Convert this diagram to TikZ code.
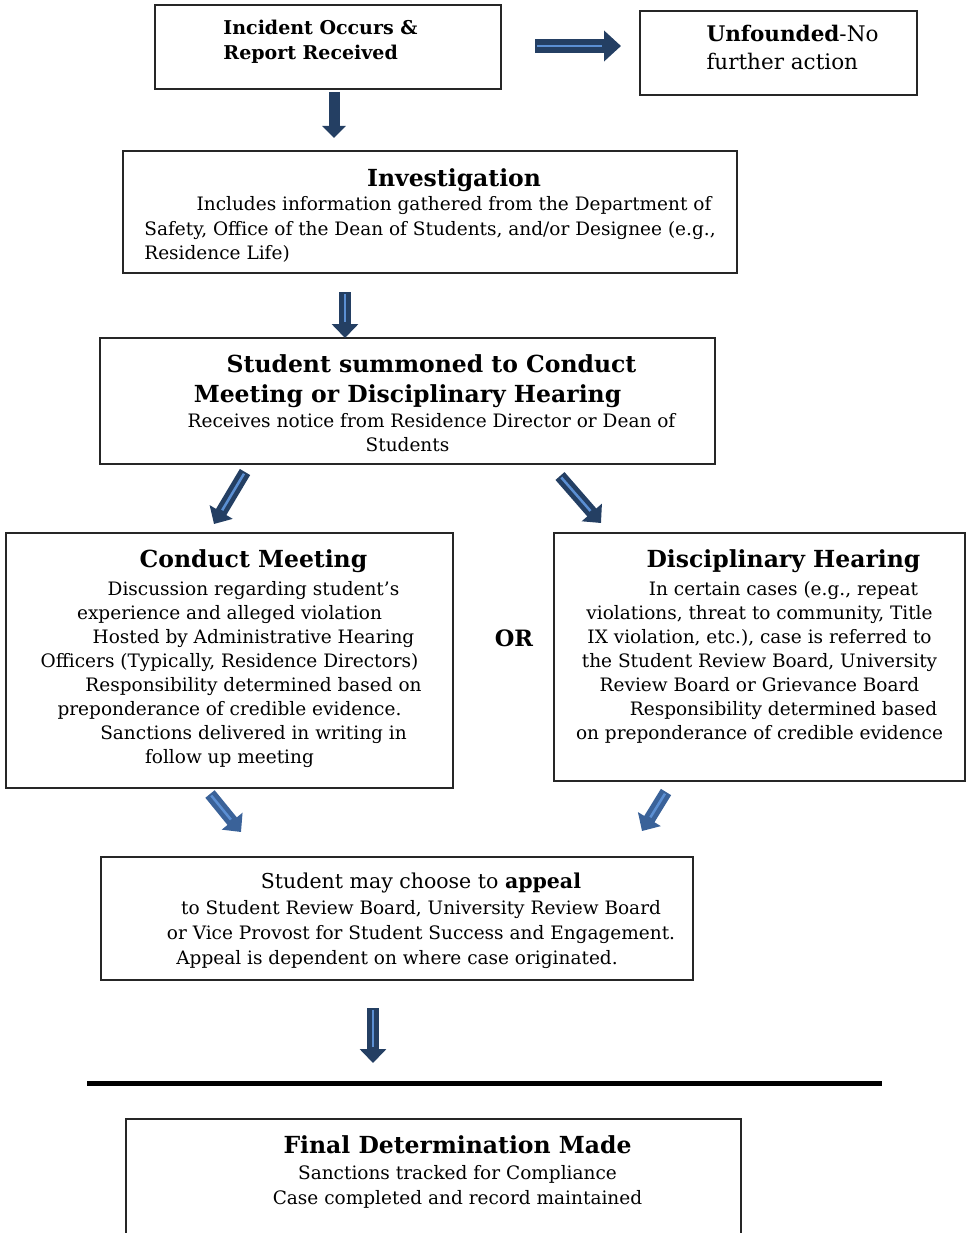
\documentclass[tikz,border=0pt]{standalone}
\usepackage{fontspec}
\setmainfont{DejaVu Serif}
\usetikzlibrary{arrows.meta}
\definecolor{arrownavy}{HTML}{243F63}
\definecolor{arrowmid}{HTML}{3A6299}
\definecolor{arrowstripe}{HTML}{5B8FD3}
\newcommand{\bodyfont}{\fontsize{18.5}{24}\selectfont}
\newcommand{\titulo}{\fontsize{23.5}{24}\selectfont\bfseries}
\newcommand{\tabin}{\hskip48pt\relax}
\newcommand{\upstrut}[1]{\rule{0pt}{#1pt}}
\newcommand{\downstrut}[1]{\rule[-#1pt]{0pt}{#1pt}}
\newcommand{\bigarrow}[3][arrownavy]{\draw[blockarrow,draw=#1] (#2) -- (#3); \draw[stripe] (#2) -- (#3);}
\tikzstyle{stepbox} = [draw=black!85, line width=1.3pt, inner sep=0pt, font=\bodyfont]
\tikzstyle{blockarrow} = [line width=12pt, -{Triangle[width=26pt,length=14pt]}]
\tikzstyle{stripe} = [line width=2.5pt, draw=arrowstripe, shorten >=16pt, shorten <=2pt]
\tikzstyle{ortext} = [font=\fontsize{22.5}{24}\selectfont\bfseries]

\begin{document}
\begin{tikzpicture}[x=1pt,y=-1pt]
	\useasboundingbox (0,0) rectangle (971,1233);
	\node[stepbox, minimum width=346pt, minimum height=84pt, align=left, font=\fontsize{19}{25}\selectfont\bfseries] (incident) at (328,47) {\upstrut{17}Incident Occurs \&\kern15pt\\Report Received\downstrut{16}};
	\node[stepbox, minimum width=277pt, minimum height=84pt, align=left, font=\fontsize{21.5}{28}\selectfont] (unfounded) at (778.5,53) {\upstrut{18}\kern28pt\textbf{Unfounded}-No\\\kern28pt further action\downstrut{12}};
	\node[stepbox, minimum width=614pt, minimum height=122pt, align=center] (investigation) at (430,212) {\upstrut{26}{\titulo\tabin Investigation}\\[1pt]\tabin Includes information gathered from the Department of\hfill\\Safety, Office of the Dean of Students, and/or Designee (e.g.,\hfill\\Residence Life)\hfill\downstrut{5}};
	\node[stepbox, minimum width=615pt, minimum height=126pt, align=center] (summoned) at (407.5,401) {\upstrut{28}{\titulo\tabin Student summoned to Conduct}\\[6pt]{\titulo Meeting or Disciplinary Hearing}\\[1pt]\tabin Receives notice from Residence Director or Dean of\\Students\downstrut{6}};
	\node[stepbox, minimum width=447pt, minimum height=255pt, align=center] (conduct) at (229.5,660.5) {\upstrut{20}{\titulo\tabin Conduct Meeting}\\[4pt]\tabin Discussion regarding student's\\experience and alleged violation\\\tabin Hosted by Administrative Hearing\\Officers (Typically, Residence Directors)\\\tabin Responsibility determined based on\\preponderance of credible evidence.\\\tabin Sanctions delivered in writing in\\follow up meeting\downstrut{11}};
	\node[ortext] (or) at (514,638) {OR};
	\node[stepbox, minimum width=411pt, minimum height=248pt, align=center] (disciplinary) at (759.5,657) {\upstrut{20}{\titulo\tabin Disciplinary Hearing}\\[4pt]\tabin In certain cases (e.g., repeat\\violations, threat to community, Title\\IX violation, etc.), case is referred to\\the Student Review Board, University\\Review Board or Grievance Board\\\tabin Responsibility determined based\\on preponderance of credible evidence\downstrut{28}};
	\node[stepbox, minimum width=592pt, minimum height=123pt, align=center, font=\fontsize{18.5}{25}\selectfont] (appeal) at (397,918.5) {\upstrut{22}{\fontsize{20.5}{25}\selectfont\tabin Student may choose to \textbf{appeal}}\\[1pt]\tabin to Student Review Board, University Review Board\\\tabin or Vice Provost for Student Success and Engagement.\\Appeal is dependent on where case originated.\downstrut{7}};
	\node[stepbox, minimum width=615pt, minimum height=141pt, align=center, font=\fontsize{18.5}{25}\selectfont] (final) at (433.5,1189.5) {\upstrut{20}{\titulo\tabin Final Determination Made}\\[1pt]\tabin Sanctions tracked for Compliance\\\tabin Case completed and record maintained\downstrut{41}};

	\coordinate (inc-d) at (334,92);
	\coordinate (inv-u) at (334,138);
	\coordinate (inc-r) at (535,46);
	\coordinate (unf-l) at (621,46);
	\coordinate (inv-d) at (345,292);
	\coordinate (sum-u) at (345,338);
	\coordinate (sum-dl) at (245,472);
	\coordinate (con-u) at (214,524);
	\coordinate (sum-dr) at (560,476);
	\coordinate (dis-u) at (601,523);
	\coordinate (con-d) at (210,794);
	\coordinate (app-ul) at (241,832);
	\coordinate (dis-d) at (666,792);
	\coordinate (app-ur) at (642,831);
	\coordinate (app-d) at (373,1008);
	\coordinate (fin-u) at (373,1063);

	\draw[blockarrow, draw=arrownavy, line width=11pt, -{Triangle[width=23pt,length=12pt]}] (inc-d) -- (inv-u);
	\draw[blockarrow, draw=arrownavy, line width=14pt, -{Triangle[width=30pt,length=17pt]}] (inc-r) -- (unf-l);
	\draw[stripe, shorten >=19pt] (inc-r) -- (unf-l);
	\bigarrow{inv-d}{sum-u}
	\bigarrow{sum-dl}{con-u}
	\bigarrow{sum-dr}{dis-u}
	\bigarrow[arrowmid]{con-d}{app-ul}
	\bigarrow[arrowmid]{dis-d}{app-ur}
	\bigarrow{app-d}{fin-u}
	\draw[line width=5pt] (87,1083) -- (882,1083);
\end{tikzpicture}
\end{document}
